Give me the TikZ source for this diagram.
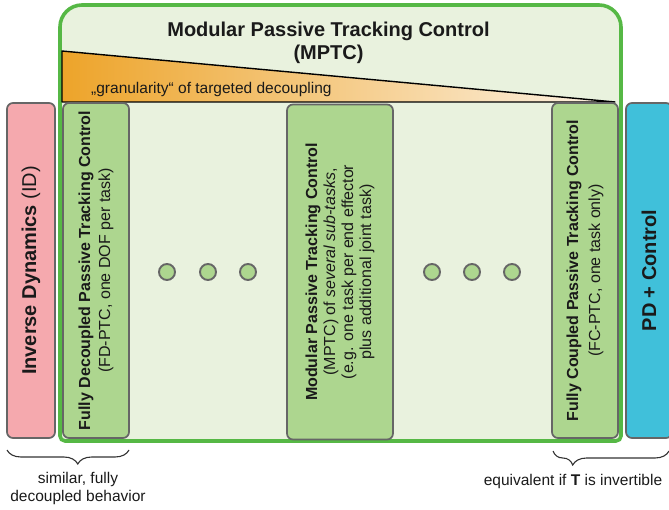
\documentclass[tikz,border=0pt]{standalone}
\usepackage{fontspec}
\setmainfont{Liberation Sans}
\usetikzlibrary{decorations.pathreplacing}
\definecolor{greenline}{HTML}{56B845}
\definecolor{lightgreen}{HTML}{E9F2DE}
\definecolor{boxgreen}{HTML}{ADD68F}
\definecolor{pinkbox}{HTML}{F5A9AE}
\definecolor{cyanbox}{HTML}{40C0DA}
\definecolor{orangeL}{HTML}{EDA42A}
\definecolor{orangeR}{HTML}{FDF3E6}
\definecolor{boxborder}{HTML}{666666}
\definecolor{txt}{HTML}{1A1A1A}
\newcommand{\bodyfont}{\fontsize{16}{20}\selectfont}
\newcommand{\bigfont}{\fontsize{20}{23}\selectfont}
\begin{document}
\begin{tikzpicture}[x=1pt,y=-1pt,
  colbox/.style={draw=boxborder, line width=1.7pt, rounded corners=6pt,
    rotate=90, minimum width=335pt, inner sep=0pt, align=center,
    text=txt, font=\bodyfont},
  dotc/.style={circle, draw=boxborder, fill=boxgreen, line width=1.9pt,
    minimum size=16pt, inner sep=0pt},
  bracestyle/.style={draw=black!80, line width=1.1pt,
    decorate, decoration={brace, mirror, amplitude=14pt}},
  lbl/.style={text=txt, font=\bodyfont, inner sep=0pt, align=center}]
\useasboundingbox (0,0) rectangle (669,510);

% outer MPTC frame
\path[fill=lightgreen, draw=greenline, line width=3.6pt]
  (60,300) [rounded corners=22pt] |- (340,5) -| (621,300)
  [rounded corners=5pt] |- (340,441) -| (60,300);

\node[text=txt, font=\bigfont\bfseries, align=center, inner sep=0pt]
  (title) at (328.5,43) {Modular Passive Tracking Control\\(MPTC)};

% granularity wedge
\shade[left color=orangeL, right color=orangeR]
  (62,51) -- (615,102) -- (62,102) -- cycle;
\draw[line width=1.4pt, line join=round] (62,51) -- (615,102) -- (62,102) -- cycle;
\node[lbl, anchor=west, font=\fontsize{15.5}{18}\selectfont] (gran) at (91,89)
  {„granularity“ of targeted decoupling};

% columns
\node[colbox, fill=pinkbox, minimum height=48pt, font=\bigfont] (id) at (31,270.5)
  {\textbf{Inverse Dynamics} (ID)};
\node[colbox, fill=boxgreen, minimum height=66pt] (fd) at (96,270.5)
  {\textbf{Fully Decoupled Passive Tracking Control}\\(FD-PTC, one DOF per task)};
\node[colbox, fill=boxgreen, minimum height=106pt, font=\fontsize{16}{18}\selectfont] (mptc) at (340,272)
  {\textbf{Modular Passive Tracking Control}\\(MPTC) of \textit{several sub-tasks},\\(e.g. one task per end effector\\plus additional joint task)};
\node[colbox, fill=boxgreen, minimum height=66pt, font=\fontsize{16}{22}\selectfont] (fc) at (585,270.5)
  {\textbf{Fully Coupled Passive Tracking Control}\\(FC-PTC, one task only)};
\node[colbox, fill=cyanbox, minimum height=46pt, font=\bigfont\bfseries] (pd) at (649,270.5)
  {PD + Control};

% ellipsis dots
\node[dotc] (d1) at (167,272) {};
\node[dotc] (d2) at (208,272) {};
\node[dotc] (d3) at (248,272) {};
\node[dotc] (d4) at (432,272) {};
\node[dotc] (d5) at (472,272) {};
\node[dotc] (d6) at (512,272) {};

% braces
\coordinate (bl1) at (7,450);
\coordinate (bl2) at (129,450);
\coordinate (br1) at (553,451);
\coordinate (br2) at (669,451);
\draw[bracestyle, decoration={aspect=0.58}] (bl1) -- (bl2);
\draw[bracestyle, decoration={aspect=0.17}] (br1) -- (br2);

\node[lbl, font=\fontsize{15.5}{18}\selectfont] (simtxt) at (78,488)
  {similar, fully\\decoupled behavior};
\node[lbl, font=\fontsize{15.5}{18}\selectfont] (eqtxt) at (573,481)
  {equivalent if \textbf{T} is invertible};
\end{tikzpicture}
\end{document}
